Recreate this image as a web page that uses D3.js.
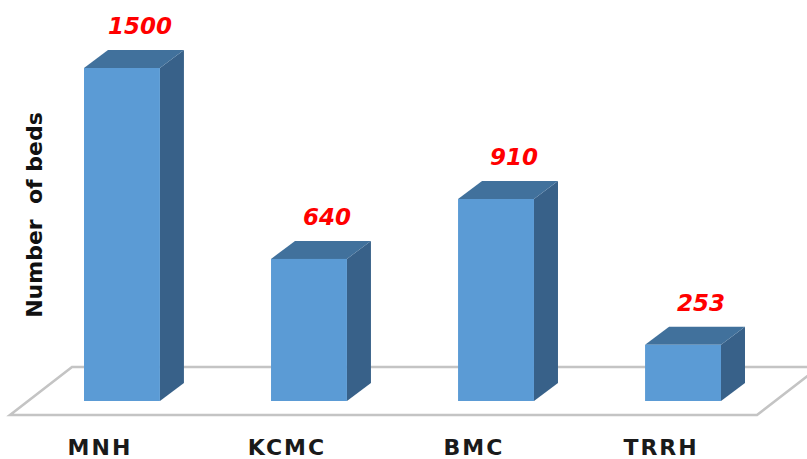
<!DOCTYPE html>
<html><head><meta charset="utf-8">
<script src="https://cdn.jsdelivr.net/npm/d3@7"></script>
<style>html,body{margin:0;padding:0;background:#fff;}svg{display:block;}</style>
</head><body>
<svg id="chart" width="807" height="459"></svg>
<script>
const categories = ["MNH", "KCMC", "BMC", "TRRH"];
const beds = [1500, 640, 910, 253];
const yTitle = "Number  of beds";

const svg = d3.select("#chart");
const depthX = 24, depthY = 18;
const baseY = 401;

const x = d3.scaleBand().domain(categories).range([84, 721]).paddingInner(0.594).paddingOuter(0);
const y = d3.scaleLinear().domain([0, 1500]).range([baseY, 68]);

// floor
const floorBackY = 367, floorFrontY = 415;
const floorFrontLeft = 10, floorFrontRight = 757, floorDX = 62;
svg.append("path")
  .attr("d", `M${floorFrontLeft},${floorFrontY} L${floorFrontLeft+floorDX},${floorBackY} L${floorFrontRight+floorDX},${floorBackY} L${floorFrontRight},${floorFrontY} Z`)
  .attr("fill", "#ffffff").attr("stroke", "#c4c4c4").attr("stroke-width", 2.6).attr("stroke-linejoin", "miter");

const data = categories.map((c, i) => ({c, v: beds[i]}));
const g = svg.append("g");
const bw = x.bandwidth();

data.forEach(d => {
  const x0 = x(d.c), x1 = x0 + bw, yt = y(d.v);
  g.append("path").attr("d", `M${x1},${yt} L${x1+depthX},${yt-depthY} L${x1+depthX},${baseY-depthY} L${x1},${baseY} Z`)
    .attr("fill", "#386189");
  g.append("path").attr("d", `M${x0},${yt} L${x0+depthX},${yt-depthY} L${x1+depthX},${yt-depthY} L${x1},${yt} Z`)
    .attr("fill", "#41719c");
  g.append("rect").attr("x", x0).attr("y", yt).attr("width", bw).attr("height", baseY - yt)
    .attr("fill", "#5b9bd5");
  g.append("text").attr("x", x0 + bw/2 + 18).attr("y", yt - depthY - 16)
    .attr("text-anchor", "middle")
    .attr("font-family", "DejaVu Sans, Verdana, sans-serif")
    .attr("font-weight", "bold").attr("font-style", "italic")
    .attr("font-size", 23).attr("fill", "#ff0000")
    .text(d3.format("d")(d.v));
  g.append("text").attr("x", x0 + bw/2 - 22).attr("y", 455)
    .attr("text-anchor", "middle")
    .attr("font-family", "DejaVu Sans, Verdana, sans-serif")
    .attr("font-weight", "bold").attr("font-size", 22)
    .attr("letter-spacing", 2)
    .attr("fill", "#1a1a1a")
    .text(d.c);
});

svg.append("text")
  .attr("transform", "translate(42,215) rotate(-90)")
  .attr("text-anchor", "middle")
  .attr("font-family", "DejaVu Sans, Verdana, sans-serif")
  .attr("font-weight", "bold").attr("font-size", 22)
  .attr("fill", "#111")
  .attr("xml:space", "preserve")
  .style("white-space", "pre")
  .text(yTitle);
</script>
</body></html>
